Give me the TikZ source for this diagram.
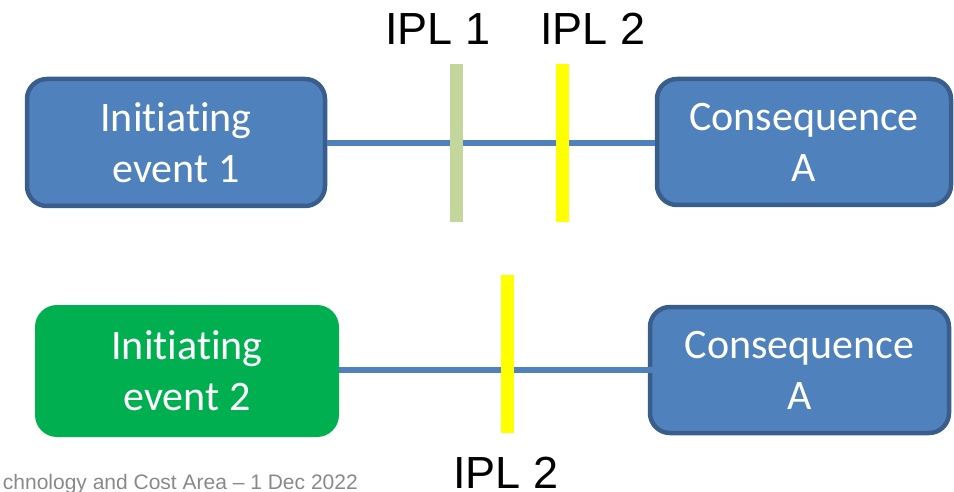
\documentclass[tikz,border=0pt]{standalone}
\usepackage{fontspec}
\setmainfont{Liberation Sans}
\newfontfamily\boxfont[Ligatures={NoCommon,NoContextual}]{Carlito}
\definecolor{evblue}{HTML}{4F81BD}
\definecolor{evedge}{HTML}{3A5E8C}
\definecolor{evgreen}{HTML}{00B050}
\definecolor{iplgreen}{HTML}{C3D69B}
\definecolor{iplyellow}{HTML}{FFFF00}
\definecolor{footgray}{HTML}{898989}
\begin{document}
\begin{tikzpicture}[x=1pt,y=-1pt,
  eventbox/.style={rounded corners=20pt, align=center, text=white,
    font=\boxfont\fontsize{42}{51}\selectfont, inner sep=0pt},
  bluebox/.style={eventbox, fill=evblue, draw=evedge, line width=4.5pt},
  greenbox/.style={eventbox, fill=evgreen, rounded corners=22pt},
  link/.style={draw=evblue, line width=6pt},
  barrier/.style={minimum width=13pt, minimum height=158pt, inner sep=0pt, draw=none},
  ipltext/.style={font=\fontsize{45}{50}\selectfont, anchor=base, inner sep=0pt}
]
\useasboundingbox (0,0) rectangle (954,492);

% event and consequence boxes
\node[bluebox, minimum width=298pt, minimum height=127pt] (ie1) at (176,142.5) {Initiating\\event 1};
\node[bluebox, minimum width=294pt, minimum height=126pt] (ca1) at (804,142) {Consequence\\A};
\node[greenbox, minimum width=304pt, minimum height=132pt] (ie2) at (187,371) {Initiating\\event 2};
\node[bluebox, minimum width=299pt, minimum height=126pt] (ca2) at (799.5,370) {Consequence\\A};

% scenario lines
\coordinate (mid1) at (0,143.3);
\coordinate (end2) at (667,370);
\draw[link] (ie1.east |- mid1) -- (ca1.west |- mid1);
\draw[link] (ie2.east |- end2) -- (end2);

% independent protection layers
\node[barrier, fill=iplgreen] (b1) at (456,143.5) {};
\node[barrier, fill=iplyellow] (b2) at (562,143.5) {};
\node[barrier, fill=iplyellow] (b3) at (507,354) {};

\node[ipltext] (l1) at (438,45) {IPL 1};
\node[ipltext] (l2) at (593,45) {IPL 2};
\node[ipltext] (l3) at (506,488) {IPL 2};

% footer
\node[font=\fontsize{21}{24}\selectfont, text=footgray, anchor=base east, inner sep=0pt] (foot) at (358,489) {chnology and Cost Area – 1 Dec 2022};
\end{tikzpicture}
\end{document}
